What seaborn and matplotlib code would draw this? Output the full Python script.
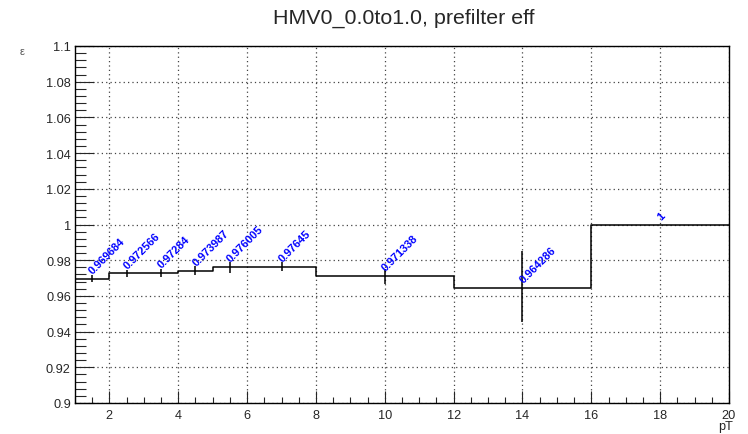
import matplotlib
matplotlib.use("Agg")
import matplotlib.pyplot as plt
import seaborn as sns
import numpy as np
import pandas as pd
from matplotlib.ticker import MultipleLocator, FormatStrFormatter

# ---- data ----
bin_edges = [1, 2, 3, 4, 5, 6, 8, 12, 16, 20]
eff_values = [0.969684, 0.972566, 0.97284, 0.973987, 0.976005, 0.97645, 0.971338, 0.964286, 1.0]
eff_labels = ["0.969684", "0.972566", "0.97284", "0.973987", "0.976005", "0.97645", "0.971338", "0.964286", "1"]
err_low = [0.002, 0.002, 0.002, 0.0025, 0.003, 0.0025, 0.0045, 0.019, 0.0]
err_high = [0.002, 0.002, 0.002, 0.0025, 0.003, 0.0025, 0.0038, 0.0208, 0.0]
title = "HMV0_0.0to1.0, prefilter eff"

sns.set_style("ticks")
plt.rcParams["font.family"] = ["Liberation Sans", "DejaVu Sans"]

centers = [(a + b) / 2 for a, b in zip(bin_edges[:-1], bin_edges[1:])]
df = pd.DataFrame({"pT": centers, "eff": eff_values})

W, H = 748, 435
fig = plt.figure(figsize=(W / 100, H / 100), dpi=100)
ax = fig.add_axes([75 / W, 1 - 404 / H, (729 - 75) / W, (404 - 47) / H])

sns.histplot(data=df, x="pT", weights="eff", bins=bin_edges, element="step",
             fill=False, color="black", linewidth=1.1, ax=ax)
ax.errorbar(centers, eff_values, yerr=[err_low, err_high], fmt="none",
            ecolor="black", elinewidth=1.1, capsize=0)

for xc, v, lab in zip(centers, eff_values, eff_labels):
    ax.annotate(lab, (xc, v), xytext=(1.5, 2.5), textcoords="offset points",
                rotation=45, rotation_mode="anchor", ha="left", va="bottom",
                color="#0000ff", fontsize=8.0, fontweight="bold")

ax.set_xlim(1, 20)
ax.set_ylim(0.9, 1.1)
ax.xaxis.set_major_locator(MultipleLocator(2))
ax.xaxis.set_minor_locator(MultipleLocator(0.5))
ax.yaxis.set_major_locator(MultipleLocator(0.02))
ax.yaxis.set_minor_locator(MultipleLocator(0.004))
ax.yaxis.set_major_formatter(FormatStrFormatter("%g"))
ax.xaxis.set_major_formatter(FormatStrFormatter("%g"))

ax.tick_params(axis="x", which="major", direction="in", length=8.6, width=0.8,
               labelsize=9.2, pad=4, top=False)
ax.tick_params(axis="x", which="minor", direction="in", length=4.3, width=0.8, top=False)
ax.tick_params(axis="y", which="major", direction="in", length=14, width=0.8,
               labelsize=9.2, pad=3, right=False)
ax.tick_params(axis="y", which="minor", direction="in", length=8, width=0.8, right=False)

ax.grid(True, which="major", linestyle=(0, (1, 2.5)), color="#444444", linewidth=0.9)
ax.set_axisbelow(True)
for s in ax.spines.values():
    s.set_visible(True)
    s.set_color("black")
    s.set_linewidth(1.0)

ax.set_xlabel("")
ax.set_ylabel("")
fig.text(404 / W, 1 - 18 / H, title, ha="center", va="center", fontsize=15.4)
fig.text(22 / W, 1 - 52 / H, "ε", ha="center", va="center", fontsize=8, color="#555555")
fig.text(733 / W, 1 - 427 / H, "pT", ha="right", va="center", fontsize=9.2)

fig.savefig("out.png", dpi=100)
